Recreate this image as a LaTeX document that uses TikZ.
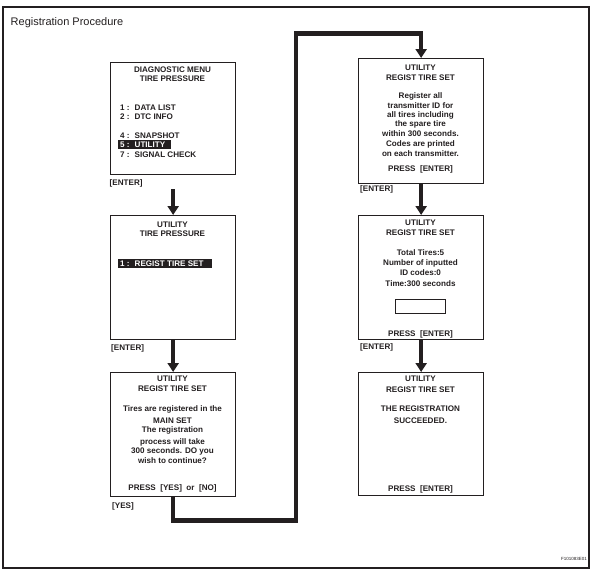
\documentclass[tikz,border=0pt]{standalone}
\usepackage{fontspec}
\setmainfont{Liberation Sans}
\newfontfamily\scrfont{Liberation Sans Bold}
\usetikzlibrary{arrows.meta,calc}
\definecolor{ink}{HTML}{231F20}
\begin{document}
\begin{tikzpicture}[x=1pt,y=-1pt,
  screen/.style={rectangle,draw=ink,line width=1.3pt,inner sep=0pt,minimum width=125pt,anchor=north west},
  txt/.style={inner sep=0pt,anchor=base,text=ink,font=\scrfont\fontsize{8.1}{9}\selectfont},
  ltxt/.style={txt,anchor=base west},
  hl/.style={rectangle,fill=ink,inner sep=0pt,anchor=north west},
  htxt/.style={ltxt,text=white},
  conn/.style={draw=ink,line width=4.5pt,-{Triangle[length=9pt,width=11pt]}}]
\useasboundingbox (0,0) rectangle (593,571);
\draw[ink,line width=1.2pt] (3,7) rectangle (589,568);
\node[inner sep=0pt,anchor=base west,text=ink,font=\fontsize{11}{13}\selectfont] (title) at (10.5,25) {Registration Procedure};

% ---------- left column ----------
\node[screen,minimum height=112pt] (b1) at (110,61.5) {};
\node[txt] (b1t1) at (172.5,72.2) {DIAGNOSTIC MENU};
\node[txt] (b1t2) at (172.5,81.2) {TIRE PRESSURE};
\node[ltxt] (b1l1) at (120,110) {1 :\hspace{5pt}DATA LIST};
\node[ltxt] (b1l2) at (120,119) {2 :\hspace{5pt}DTC INFO};
\node[ltxt] (b1l4) at (120,138) {4 :\hspace{5pt}SNAPSHOT};
\node[hl,minimum width=53pt,minimum height=9pt] (h1) at (118,139.5) {};
\node[htxt] (b1l5) at (120,147) {5 :\hspace{5pt}UTILITY};
\node[ltxt] (b1l7) at (120,157.5) {7 :\hspace{5pt}SIGNAL CHECK};
\node[ltxt] (e1) at (109.5,185.5) {[ENTER]};

\node[screen,minimum height=124pt] (b2) at (110,215) {};
\node[txt] (b2t1) at (172.5,227) {UTILITY};
\node[txt] (b2t2) at (172.5,236) {TIRE PRESSURE};
\node[hl,minimum width=94pt,minimum height=9pt] (h2) at (118,258.5) {};
\node[htxt] (b2l1) at (120,266) {1 :\hspace{5pt}REGIST TIRE SET};
\node[ltxt] (e2) at (111,350) {[ENTER]};

\node[screen,minimum height=124pt] (b3) at (110,372) {};
\node[txt] (b3t1) at (172.5,381) {UTILITY};
\node[txt] (b3t2) at (172.5,391) {REGIST TIRE SET};
\node[txt] (b3a) at (172.5,411) {Tires are registered in the};
\node[txt] (b3b) at (172.5,423) {MAIN SET};
\node[txt] (b3c) at (172.5,432) {The registration};
\node[txt] (b3d) at (172.5,444) {process will take};
\node[txt] (b3e) at (172.5,453) {300 seconds. DO you};
\node[txt] (b3f) at (172.5,463) {wish to continue?};
\node[txt] (b3p) at (172.5,490) {PRESS\ \ [YES]\ \ or\ \ [NO]};
\node[ltxt] (e3) at (112,508) {[YES]};

% ---------- right column ----------
\node[screen,minimum height=125pt] (b4) at (358,58) {};
\node[txt] (b4t1) at (420.5,70) {UTILITY};
\node[txt] (b4t2) at (420.5,80) {REGIST TIRE SET};
\node[txt] (b4a) at (420.5,98) {Register all};
\node[txt] (b4b) at (420.5,108) {transmitter ID for};
\node[txt] (b4c) at (420.5,117) {all tires including};
\node[txt] (b4d) at (420.5,126) {the spare tire};
\node[txt] (b4e) at (420.5,136) {within 300 seconds.};
\node[txt] (b4f) at (420.5,146) {Codes are printed};
\node[txt] (b4g) at (420.5,156) {on each transmitter.};
\node[txt] (b4p) at (420.5,171) {PRESS\ \ [ENTER]};
\node[ltxt] (e4) at (360,191) {[ENTER]};

\node[screen,minimum height=124pt] (b5) at (358,215) {};
\node[txt] (b5t1) at (420.5,225) {UTILITY};
\node[txt] (b5t2) at (420.5,235) {REGIST TIRE SET};
\node[txt] (b5a) at (420.5,255) {Total Tires:5};
\node[txt] (b5b) at (420.5,265) {Number of inputted};
\node[txt] (b5c) at (420.5,275) {ID codes:0};
\node[txt] (b5d) at (420.5,286) {Time:300 seconds};
\node[rectangle,draw=ink,line width=0.8pt,inner sep=0pt,minimum width=50pt,minimum height=14pt,anchor=north west] (field) at (395,299) {};
\node[txt] (b5p) at (420.5,336) {PRESS\ \ [ENTER]};
\node[ltxt] (e5) at (360,349) {[ENTER]};

\node[screen,minimum height=123pt] (b6) at (358,372) {};
\node[txt] (b6t1) at (420.5,381) {UTILITY};
\node[txt] (b6t2) at (420.5,392) {REGIST TIRE SET};
\node[txt] (b6a) at (420.5,411) {THE REGISTRATION};
\node[txt] (b6b) at (420.5,423) {SUCCEEDED.};
\node[txt] (b6p) at (420.5,491) {PRESS\ \ [ENTER]};

\node[inner sep=0pt,anchor=base east,text=ink,font=\fontsize{4.5}{5}\selectfont] (fig) at (587,560) {F101083E01};

% ---------- connectors ----------
\coordinate (s1) at ($(b1.south)+(0,14.5)$);
\coordinate (c1) at (296,520.5);
\coordinate (c2) at (296,33.5);
\draw[conn] (s1) -- (b2.north);
\draw[conn] (b2.south) -- (b3.north);
\draw[conn] (b3.south) |- (c1) -- (c2) -| (b4.north);
\draw[conn] (b4.south) -- (b5.north);
\draw[conn] (b5.south) -- (b6.north);
\end{tikzpicture}
\end{document}
